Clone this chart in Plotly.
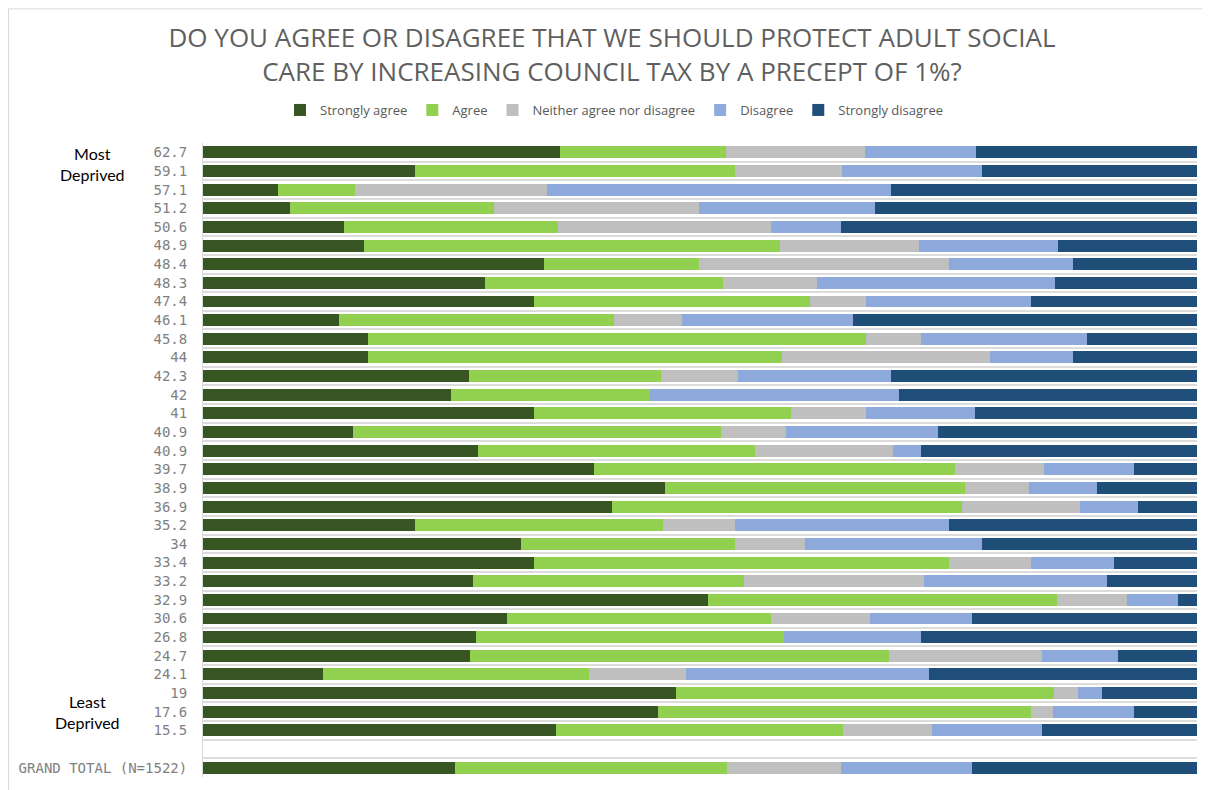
import plotly.graph_objects as go

labels = ["62.7", "59.1", "57.1", "51.2", "50.6", "48.9", "48.4", "48.3", "47.4", "46.1",
          "45.8", "44", "42.3", "42", "41", "40.9", "40.9", "39.7", "38.9", "36.9",
          "35.2", "34", "33.4", "33.2", "32.9", "30.6", "26.8", "24.7", "24.1", "19",
          "17.6", "15.5", "GRAND TOTAL (N=1522)"]

strongly_agree = [36.0, 21.3, 7.5, 8.8, 14.2, 16.2, 34.3, 28.4, 33.3, 13.7, 16.6, 16.6, 26.8,
                  24.9, 33.3, 15.1, 27.7, 39.3, 46.5, 41.1, 21.3, 32.0, 33.3, 27.2, 50.8, 30.6,
                  27.5, 26.8, 12.1, 47.6, 45.8, 35.5, 25.4]
agree = [16.7, 32.2, 7.8, 20.5, 21.5, 41.8, 15.6, 23.9, 27.8, 27.6, 50.1, 41.6, 19.3, 20.1,
         25.9, 37.0, 27.8, 36.4, 30.2, 35.3, 25.0, 21.5, 41.7, 27.2, 35.1, 26.5, 31.1, 42.1,
         26.8, 38.1, 37.5, 29.0, 27.3]
neither = [14.0, 10.8, 19.3, 20.6, 21.4, 14.0, 25.1, 9.5, 5.6, 6.9, 5.5, 21.0, 7.7, 0.0, 7.5,
           6.6, 13.9, 8.9, 6.4, 11.8, 7.2, 7.1, 8.3, 18.1, 7.1, 10.0, 0.0, 15.4, 9.7, 2.4, 2.2,
           8.9, 11.5]
disagree = [11.1, 14.1, 34.6, 17.7, 7.1, 14.0, 12.5, 23.9, 16.6, 17.2, 16.7, 8.3, 15.4, 25.0,
            11.0, 15.2, 2.8, 9.1, 6.8, 5.9, 21.5, 17.8, 8.3, 18.4, 5.1, 10.3, 13.8, 7.7, 24.5,
            2.4, 8.2, 11.1, 13.2]
strongly_disagree = [22.3, 21.6, 30.8, 32.4, 35.8, 14.0, 12.5, 14.3, 16.7, 34.6, 11.1, 12.5,
                     30.8, 30.0, 22.3, 26.1, 27.8, 6.3, 10.1, 5.9, 25.0, 21.6, 8.4, 9.1, 1.9,
                     22.6, 27.9, 7.9, 27.0, 9.6, 6.3, 15.6, 22.6]

series_names = ["Strongly agree", "Agree", "Neither agree nor disagree", "Disagree",
                "Strongly disagree"]
series_values = [strongly_agree, agree, neither, disagree, strongly_disagree]
series_colors = ["#375623", "#92D050", "#BFBFBF", "#8EA9DB", "#1F4E79"]

# one empty slot between the areas and the grand total
n = len(labels)
y_pos = list(range(n - 1)) + [n]

W, H = 1202, 782  # page body keeps an 8px margin

fig = go.Figure()
for name, vals, col in zip(series_names, series_values, series_colors):
    fig.add_trace(go.Bar(
        y=y_pos, x=vals, name=name, orientation="h",
        marker=dict(color=col, line=dict(width=0)),
        hovertemplate="%{x:.1f}%<extra>" + name + "</extra>",
    ))

fig.update_layout(
    width=W, height=H,
    barmode="stack", barnorm="percent", bargap=0.36,
    paper_bgcolor="white", plot_bgcolor="white",
    margin=dict(l=195, r=13, t=135, b=13),
    title=dict(
        text="DO YOU AGREE OR DISAGREE THAT WE SHOULD PROTECT ADULT SOCIAL<br>"
             "CARE BY INCREASING COUNCIL TAX BY A PRECEPT OF 1%?",
        x=604 / W, xanchor="center", xref="container",
        y=1 - 39 / H, yanchor="middle", yref="container",
        font=dict(family="Open Sans", size=26, color="#5f5f5f"),
    ),
    legend=dict(
        orientation="h", xref="container", yref="container",
        x=606 / W, xanchor="center", y=1 - 102 / H, yanchor="middle",
        font=dict(family="Open Sans", size=13, color="#595959"),
        traceorder="normal", itemwidth=30,
    ),
    xaxis=dict(visible=False, range=[0, 100], fixedrange=True),
    yaxis=dict(
        range=[n + 0.5, -0.5], tickmode="array", tickvals=y_pos, ticktext=labels,
        showgrid=False, zeroline=False, ticks="", ticklabelstandoff=12,
        showline=True, linecolor="#d9d9d9", linewidth=1,
        tickfont=dict(family="DejaVu Sans Mono", size=14, color="#808080"),
        minor=dict(tickvals=[i - 0.5 for i in range(n + 2)], showgrid=True,
                   gridcolor="#dcdcdc", gridwidth=1.5, ticks=""),
    ),
    annotations=[
        dict(text="Most<br>Deprived", x=-0.1107, xref="paper", xanchor="center",
             y=0.6, yref="y", yanchor="middle", showarrow=False,
             font=dict(family="Lato", size=16, color="#000000")),
        dict(text="Least<br>Deprived", x=-0.1157, xref="paper", xanchor="center",
             y=30.0, yref="y", yanchor="middle", showarrow=False,
             font=dict(family="Lato", size=16, color="#000000")),
    ],
    shapes=[
        dict(type="rect", xref="paper", yref="paper", x0=-0.1957, x1=1.009,
             y0=-0.05, y1=1.2115, line=dict(color="#d9d9d9", width=1),
             fillcolor="rgba(0,0,0,0)", layer="below"),
    ],
)

fig.write_html("out.html")
